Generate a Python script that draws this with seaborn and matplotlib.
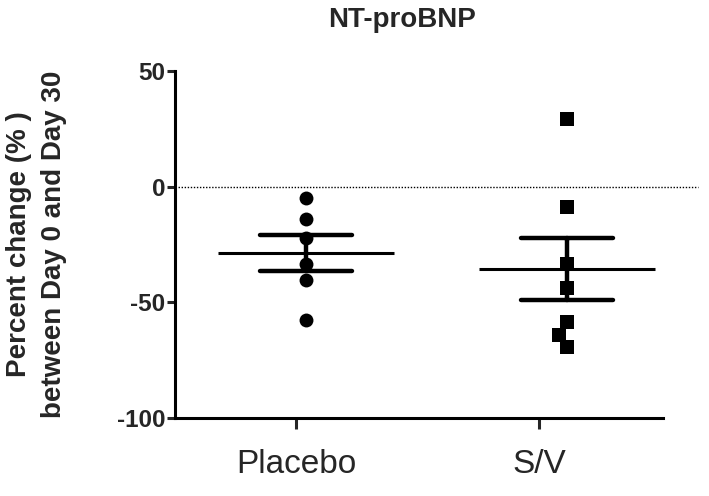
import numpy as np
import pandas as pd
import matplotlib
matplotlib.use("Agg")
import matplotlib.pyplot as plt
import seaborn as sns

# values (percent change, Day 0 -> Day 30)
groups = ["Placebo", "S/V"]
placebo = [-4.9, -13.9, -22.1, -33.2, -40.5, -57.8]
sv = [29.2, -8.9, -33.2, -43.8, -58.5, -63.9, -69.4]

df = pd.DataFrame({
    "group": ["Placebo"] * len(placebo) + ["S/V"] * len(sv),
    "value": placebo + sv,
})

sns.set_style("white")
plt.rcParams["font.family"] = ["Liberation Sans", "DejaVu Sans"]

fig = plt.figure(figsize=(7.09, 4.96), dpi=100)
ax = fig.add_axes([0.2468, 0.157, 0.6883, 0.7])

# individual points
sns.swarmplot(data=df[df.group == "Placebo"], x="group", y="value", order=groups,
              marker="o", color="black", size=10, ax=ax, zorder=3)
sns.swarmplot(data=df[df.group == "S/V"], x="group", y="value", order=groups,
              marker="s", color="black", size=10.5, ax=ax, zorder=3)

# mean +/- SEM
sns.pointplot(data=df, x="group", y="value", order=groups, errorbar="se",
              capsize=0.35, color="black", linestyle="none", marker="",
              err_kws={"linewidth": 3.2, "solid_capstyle": "round"}, ax=ax)
means = df.groupby("group")["value"].mean().reindex(groups)
ax.hlines(means.values, np.arange(len(groups)) - 0.337, np.arange(len(groups)) + 0.337,
          color="black", linewidth=2.2, zorder=2)

# reference line at 0 (runs past the x axis like the original)
ax.axhline(0, xmin=0, xmax=1.072, color="black", linestyle=(0, (1, 1.2)),
           linewidth=1.0, clip_on=False, zorder=1)

ax.set_xlim(-0.502, 1.368)
ax.set_ylim(-100, 50)
ax.set_yticks([-100, -50, 0, 50])
ax.set_yticklabels(["-100", "-50", "0", "50"], fontsize=17.5, fontweight="bold")
ax.set_xticks([-0.038, 0.893])
ax.set_xticklabels(groups, fontsize=24)
ax.set_xlabel("")
ax.set_ylabel("Percent change (% )\nbetween Day 0 and Day 30", fontsize=20,
              fontweight="bold", labelpad=36, linespacing=1.45)

for side in ["top", "right"]:
    ax.spines[side].set_visible(False)
for side in ["left", "bottom"]:
    ax.spines[side].set_linewidth(2.2)
    ax.spines[side].set_color("black")
ax.tick_params(axis="y", direction="out", length=6, width=2.2, pad=1, left=True)
ax.tick_params(axis="x", direction="out", length=8, width=2.2, pad=14, bottom=True)

fig.text(402 / 709, 1 - 20 / 496, "NT-proBNP", ha="center", va="center",
         fontsize=20, fontweight="bold")

fig.savefig("out.png", dpi=100)
